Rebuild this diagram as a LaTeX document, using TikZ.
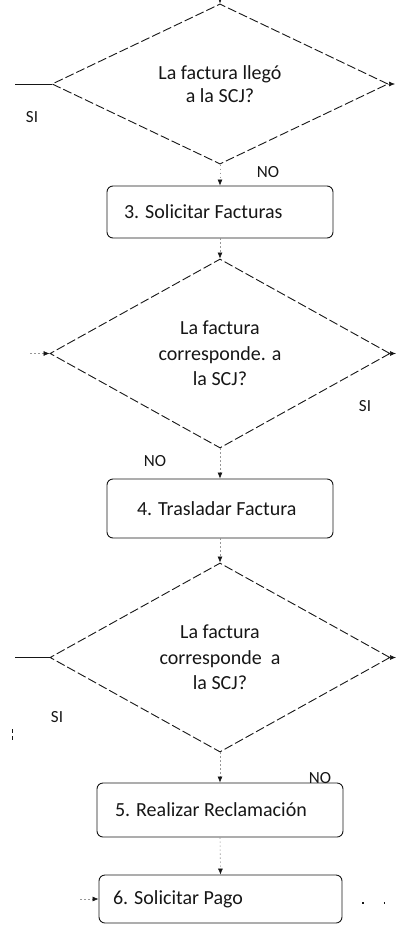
\documentclass[tikz,border=0pt]{standalone}
\usepackage{fontspec}
\setmainfont{Carlito}
\usepackage{tikz}
\usetikzlibrary{arrows.meta,positioning,shapes.geometric}
\definecolor{scanink}{RGB}{22,22,22}
\definecolor{scanfaint}{RGB}{150,150,150}

\begin{document}
\begin{tikzpicture}[x=1pt,y=-1pt,
    every node/.style={font=\fontsize{20}{25.5}\selectfont,text=scanink},
    decision/.style={diamond,draw=scanink,line width=0.9pt,dash pattern=on 9pt off 3pt,inner sep=0pt,align=center},
    process/.style={draw=scanink,line width=0.9pt,rounded corners=6pt,inner ysep=0pt,align=flush left},
    flow/.style={draw=scanfaint,line width=0.6pt,dash pattern=on 1.5pt off 2.5pt,-{Latex[length=6pt,width=5pt,color=scanink]}},
    answer/.style={font=\fontsize{17}{20}\selectfont}]
  \useasboundingbox (0,0) rectangle (397,926);

  % Decisions
  \node[decision,minimum width=336pt,minimum height=149pt,font=\fontsize{20}{23}\selectfont] (chkllego) at (220,84) {La factura llegó\\a la SCJ?};
  \node[decision,minimum width=340pt,minimum height=189pt] (chkcorr) at (220,353.5) {La factura\\corresponde. a\\la SCJ?};
  \node[decision,minimum width=340pt,minimum height=189pt] (chkcorrb) at (220,657.5) {La factura\\corresponde\ \ a\\la SCJ?};

  % Steps
  \node[process,minimum height=52pt,inner xsep=17pt,text width=192pt] (solfact) at (220,212) {3. Solicitar Facturas};
  \node[process,minimum height=59pt,inner xsep=30pt,text width=166pt] (trasfact) at (220,508.5) {4. Trasladar Factura};
  \node[process,minimum height=54pt,inner xsep=18pt,text width=210pt] (reclamo) at (220,810) {5. Realizar Reclamación};
  \node[process,minimum height=48pt,inner xsep=14pt,text width=215pt] (solpago) at (220.5,899) {6. Solicitar Pago};

  % Free ends
  \coordinate (intop) at (220,0);
  \coordinate (siuno) at (15,84);
  \coordinate (outuno) at (395,84);
  \coordinate (indos) at (30,353.5);
  \coordinate (outdos) at (396,353.5);
  \coordinate (sitres) at (15,657.5);
  \coordinate (outtres) at (396,657.5);
  \coordinate (inpago) at (80,899);
  \coordinate (outpago) at (392,903);
  \coordinate (marka) at (12,729);
  \coordinate (markb) at (12,741);

  % Connectors
  \draw[flow] (intop) -- (chkllego.north);
  \draw[flow] (chkllego.south) -- (solfact.north);
  \draw[flow] (solfact.south) -- (chkcorr.north);
  \draw[flow] (chkcorr.south) -- (trasfact.north);
  \draw[flow] (trasfact.south) -- (chkcorrb.north);
  \draw[flow] (chkcorrb.south) -- (reclamo.north);
  \draw[flow] (reclamo.south) -- (solpago.north);
  \draw[scanink,line width=0.9pt] (chkllego.west) -- (siuno);
  \draw[flow] (chkllego.east) -- (outuno);
  \draw[flow] (indos) -- (chkcorr.west);
  \draw[flow] (chkcorr.east) -- (outdos);
  \draw[scanink,line width=0.9pt] (chkcorrb.west) -- (sitres);
  \draw[flow] (chkcorrb.east) -- (outtres);
  \draw[flow] (inpago) -- (solpago.west);
  \draw[scanink,line width=1.2pt,dash pattern=on 1.5pt off 20pt] (solpago.east) ++(20,4) -- (outpago);
  \draw[scanink,line width=1pt,dash pattern=on 4pt off 3pt] (marka) -- (markb);

  % Answers
  \node[answer] (siA) at (32,117) {SI};
  \node[answer] (noA) at (268,172) {NO};
  \node[answer] (siB) at (365,406) {SI};
  \node[answer] (noB) at (155,461) {NO};
  \node[answer] (siC) at (57,717) {SI};
  \node[answer] (noC) at (320,778) {NO};
\end{tikzpicture}
\end{document}
